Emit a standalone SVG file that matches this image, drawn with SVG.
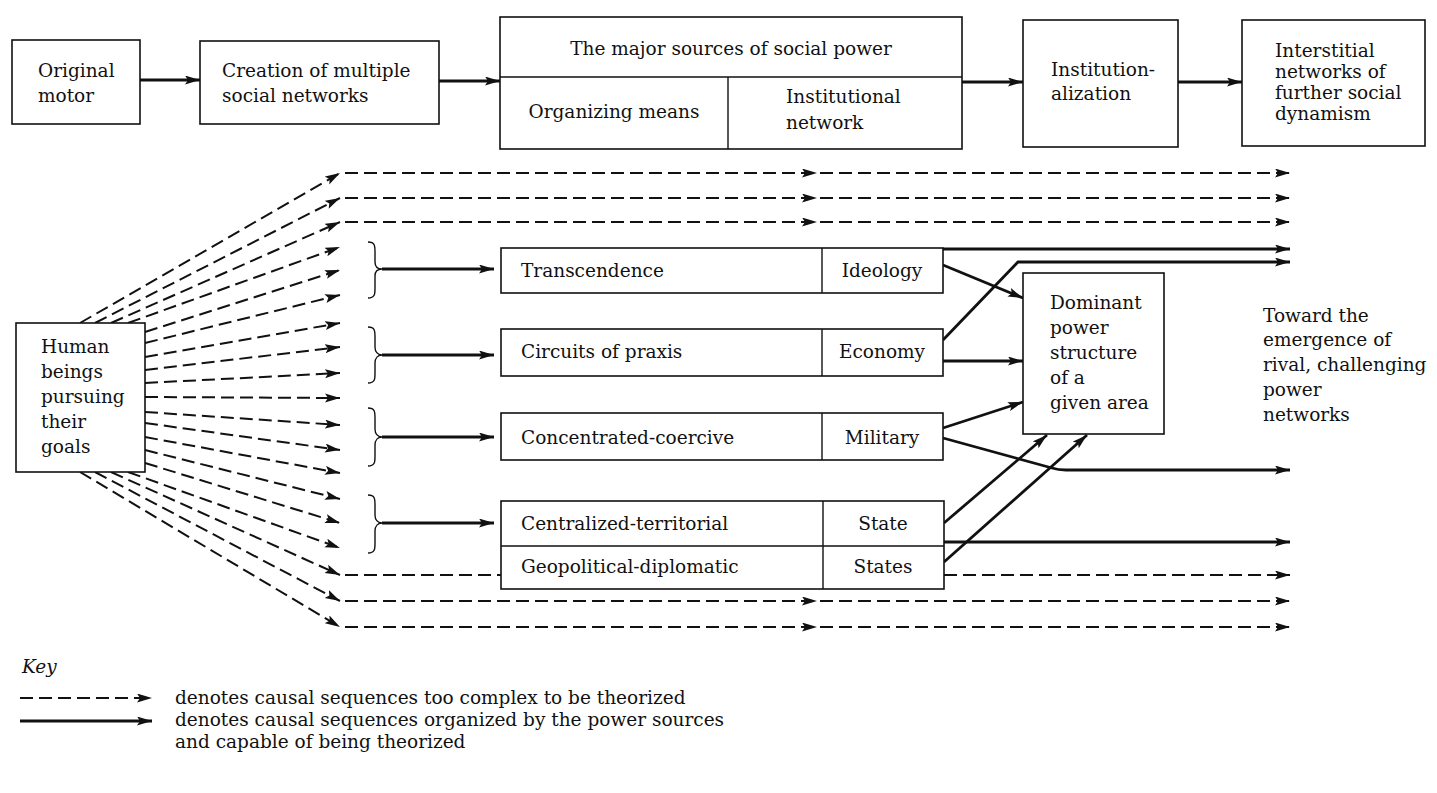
<svg xmlns="http://www.w3.org/2000/svg" width="1437" height="793" viewBox="0 0 1437 793">
<style>
text{font-family:"DejaVu Serif","Liberation Serif",serif;font-size:18.5px;fill:#111}
.box{fill:#fff;stroke:#111;stroke-width:1.6}
.ln{fill:none;stroke:#111;stroke-width:1.4}
.s{fill:none;stroke:#111;stroke-width:2.8;marker-end:url(#ah)}
.sn{fill:none;stroke:#111;stroke-width:2.8}
.d{fill:none;stroke:#111;stroke-width:2;stroke-dasharray:13 6;marker-end:url(#ah)}
.dm{fill:none;stroke:#111;stroke-width:2;stroke-dasharray:13 6;marker-end:url(#ah);marker-mid:url(#ah)}
.dn{fill:none;stroke:#111;stroke-width:2;stroke-dasharray:13 6}
.br{fill:none;stroke:#111;stroke-width:1.4}
.c{text-anchor:middle}
</style>
<defs>
<marker id="ah" markerUnits="userSpaceOnUse" markerWidth="16" markerHeight="10" refX="15" refY="4.5" orient="auto">
<path d="M0,0 L15,4.5 L0,9 L3,4.5 z" fill="#111"/>
</marker>
</defs>

<g id="connectors">
<!-- top row -->
<path class="s" d="M140,80 L200,80"/>
<path class="s" d="M439,81 L500,81"/>
<path class="s" d="M962,82 L1023,82"/>
<path class="s" d="M1178,82 L1242,82"/>

<!-- fan from Human beings -->
<path class="d" d="M80,323 L340,173"/>
<path class="d" d="M95,323 L340,198"/>
<path class="d" d="M111,323 L340,222"/>
<path class="d" d="M128,323 L340,247"/>
<path class="d" d="M145,332 L340,270"/>
<path class="d" d="M145,343 L340,295"/>
<path class="d" d="M145,357 L340,323"/>
<path class="d" d="M145,370 L340,347"/>
<path class="d" d="M145,383 L340,373"/>
<path class="d" d="M145,397 L340,398"/>
<path class="d" d="M145,412 L340,425"/>
<path class="d" d="M145,423 L340,450"/>
<path class="d" d="M145,437 L340,473"/>
<path class="d" d="M145,450 L340,499"/>
<path class="d" d="M145,463 L340,523"/>
<path class="d" d="M128,472 L340,548"/>
<path class="d" d="M111,472 L340,575"/>
<path class="d" d="M95,472 L340,601"/>
<path class="d" d="M80,472 L340,627"/>

<!-- long dashed horizontals -->
<path class="dm" d="M345,173 L817,173 L1290,173"/>
<path class="dm" d="M345,198 L817,198 L1290,198"/>
<path class="dm" d="M345,222 L817,222 L1290,222"/>
<path class="dn" d="M345,575 L501,575"/>
<path class="d" d="M944,575 L1290,575"/>
<path class="dm" d="M345,601 L817,601 L1290,601"/>
<path class="dm" d="M345,627 L817,627 L1290,627"/>

<!-- brackets -->
<path class="br" d="M368,242 C375,242 375,246 375,252 L375,262 C375,267 378,269 382,269 C378,269 375,271 375,276 L375,288 C375,294 375,298 368,298"/>
<path class="br" d="M368,327 C375,327 375,331 375,337 L375,347 C375,352 378,355 382,355 C378,355 375,358 375,363 L375,373 C375,379 375,383 368,383"/>
<path class="br" d="M368,408 C375,408 375,412 375,418 L375,429 C375,434 378,437 382,437 C378,437 375,440 375,445 L375,456 C375,462 375,466 368,466"/>
<path class="br" d="M368,495 C375,495 375,499 375,505 L375,515 C375,520 378,523 382,523 C378,523 375,526 375,531 L375,543 C375,549 375,553 368,553"/>
<path class="s" d="M382,269 L494,269"/>
<path class="s" d="M382,355 L494,355"/>
<path class="s" d="M382,437 L494,437"/>
<path class="s" d="M382,523 L494,523"/>

<!-- right side -->
<path class="s" d="M943,249 L1290,249"/>
<path class="s" d="M943,340 L1018,262 L1290,262"/>
<path class="s" d="M943,265 L1023,298"/>
<path class="s" d="M943,361 L1023,361"/>
<path class="s" d="M943,428 L1023,402"/>
<path class="s" d="M943,438 L1052,468 Q1058,470 1066,470 L1290,470"/>
<path class="s" d="M944,523 L1047,435"/>
<path class="s" d="M944,562 L1087,435"/>
<path class="s" d="M944,542 L1290,542"/>

<!-- key -->
<path class="d" d="M20,698 L152,698"/>
<path class="s" d="M20,721 L152,721"/>
</g>

<g id="original-motor">
<rect class="box" x="12" y="40" width="128" height="84"/>
<text x="38" y="77">Original</text>
<text x="38" y="102">motor</text>
</g>
<g id="creation">
<rect class="box" x="200" y="41" width="239" height="83"/>
<text x="222" y="77">Creation of multiple</text>
<text x="222" y="102">social networks</text>
</g>
<g id="major-sources">
<rect class="box" x="500" y="17" width="462" height="132"/>
<path class="ln" d="M500,77 L962,77 M728,77 L728,149"/>
<text class="c" x="731" y="55">The major sources of social power</text>
<text class="c" x="614" y="118">Organizing means</text>
<text x="786" y="103">Institutional</text>
<text x="786" y="129">network</text>
</g>
<g id="institutionalization">
<rect class="box" x="1023" y="20" width="155" height="127"/>
<text x="1051" y="76">Institution-</text>
<text x="1051" y="100">alization</text>
</g>
<g id="interstitial">
<rect class="box" x="1242" y="20" width="183" height="126"/>
<text x="1275" y="57">Interstitial</text>
<text x="1275" y="78">networks of</text>
<text x="1275" y="99">further social</text>
<text x="1275" y="120">dynamism</text>
</g>

<g id="human-beings">
<rect class="box" x="16" y="323" width="129" height="149"/>
<text x="41" y="353">Human</text>
<text x="41" y="378">beings</text>
<text x="41" y="403">pursuing</text>
<text x="41" y="428">their</text>
<text x="41" y="453">goals</text>
</g>

<g id="ideology">
<rect class="box" x="501" y="248" width="442" height="45"/>
<path class="ln" d="M822,248 L822,293"/>
<text x="521" y="277">Transcendence</text>
<text class="c" x="882" y="277">Ideology</text>
</g>
<g id="economy">
<rect class="box" x="501" y="329" width="442" height="47"/>
<path class="ln" d="M822,329 L822,376"/>
<text x="521" y="358">Circuits of praxis</text>
<text class="c" x="882" y="358">Economy</text>
</g>
<g id="military">
<rect class="box" x="501" y="413" width="442" height="47"/>
<path class="ln" d="M822,413 L822,460"/>
<text x="521" y="444">Concentrated-coercive</text>
<text class="c" x="882" y="444">Military</text>
</g>
<g id="state">
<rect class="box" x="501" y="501" width="443" height="88"/>
<path class="ln" d="M501,546 L944,546 M823,501 L823,589"/>
<text x="521" y="530">Centralized-territorial</text>
<text class="c" x="883" y="530">State</text>
<text x="521" y="573">Geopolitical-diplomatic</text>
<text class="c" x="883" y="573">States</text>
</g>

<g id="dominant">
<rect class="box" x="1023" y="273" width="141" height="161"/>
<text x="1050" y="309">Dominant</text>
<text x="1050" y="334">power</text>
<text x="1050" y="359">structure</text>
<text x="1050" y="384">of a</text>
<text x="1050" y="409">given area</text>
</g>

<g id="toward">
<text x="1263" y="322">Toward the</text>
<text x="1263" y="346">emergence of</text>
<text x="1263" y="371">rival, challenging</text>
<text x="1263" y="396">power</text>
<text x="1263" y="421">networks</text>
</g>

<g id="key">
<text x="22" y="673" font-style="italic">Key</text>
<text x="175" y="704">denotes causal sequences too complex to be theorized</text>
<text x="175" y="726">denotes causal sequences organized by the power sources</text>
<text x="175" y="748">and capable of being theorized</text>
</g>
</svg>
